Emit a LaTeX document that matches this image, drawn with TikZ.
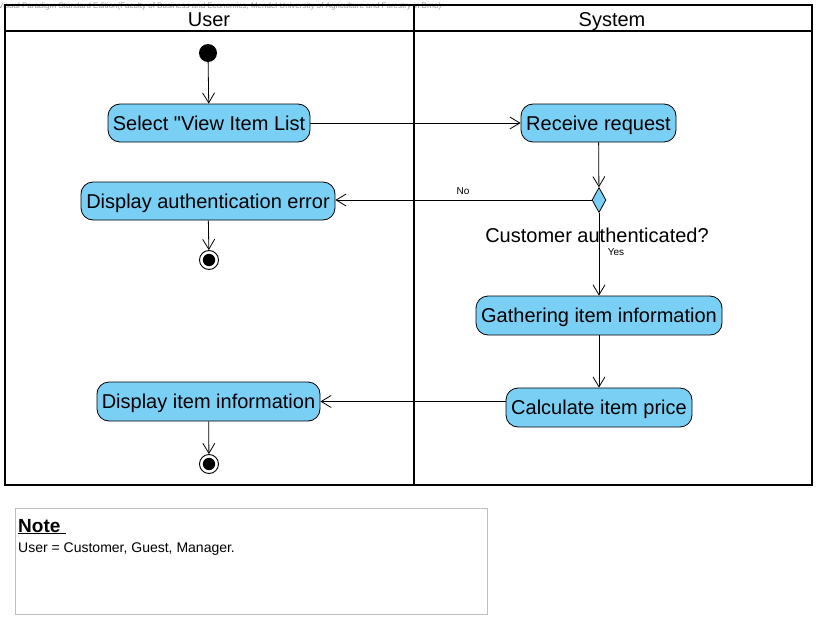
\documentclass[tikz,border=0pt]{standalone}
\usepackage{fontspec}
\setmainfont{Liberation Sans}
\usetikzlibrary{arrows.meta,shapes.geometric}
\definecolor{actc}{RGB}{122,207,245}
\definecolor{wm}{RGB}{150,150,150}
\definecolor{notec}{RGB}{190,190,190}
\begin{document}
\begin{tikzpicture}[x=1pt,y=-1pt,
  act/.style={draw, fill=actc, rounded corners=12pt, font=\fontsize{20}{24}\selectfont, inner sep=0pt, text height=18pt, text depth=4pt, line width=0.8pt},
  arr/.style={-{Straight Barb[length=10pt,width=12pt]}, line width=0.8pt},
  startn/.style={circle, fill=black, minimum size=18pt, inner sep=0pt},
  endn/.style={circle, draw, line width=0.9pt, fill=white, minimum size=19pt, inner sep=0pt},
  dec/.style={diamond, draw, fill=actc, inner sep=0pt, minimum width=14pt, minimum height=25pt, line width=0.8pt},
  lbl/.style={font=\fontsize{10}{12}\selectfont, inner sep=0pt},
  lane/.style={line width=2pt},
  head/.style={font=\fontsize{20}{24}\selectfont, inner sep=0pt, text height=18pt, text depth=4pt}
]
\useasboundingbox (0,0) rectangle (817,618);
\clip (0,0) rectangle (817,618);
% watermark
\node[anchor=west, text=wm, font=\fontsize{8}{10}\selectfont, inner sep=0pt] (wmark) at (-2,6.5)
  {Visual Paradigm Standard Edition(Faculty of Business and Economics, Mendel University of Agriculture and Forestry in Brno)};
% swimlanes
\draw[lane] (5,5) rectangle (812,485);
\draw[lane] (5,31.5) -- (812,31.5);
\draw[lane] (414,5) -- (414,485);
\node[head] (hUser) at (209,20) {User};
\node[head] (hSys) at (612,20) {System};
% nodes
\node[startn] (start) at (208,53) {};
\node[act, minimum width=202pt, minimum height=38pt] (sel) at (209,123) {Select \textquotedbl View Item List};
\node[act, minimum width=155pt, minimum height=38pt] (rec) at (598.5,123) {Receive request};
\node[dec] (dia) at (599,200) {};
\node[act, minimum width=254pt, minimum height=38pt] (dauth) at (208,201) {Display authentication error};
\node[endn] (end1) at (209,260) {};
\fill (end1.center) circle (6.2pt);
\node[head] (cond) at (597,235) {Customer authenticated?};
\node[lbl] (lNo) at (463,191) {No};
\node[lbl] (lYes) at (616,252) {Yes};
\node[act, minimum width=246pt, minimum height=39pt] (gath) at (599,315.5) {Gathering item information};
\node[act, minimum width=186pt, minimum height=39pt] (calc) at (599,407.5) {Calculate item price};
\node[act, minimum width=223pt, minimum height=39pt] (ditem) at (208.5,401.5) {Display item information};
\node[endn] (end2) at (209,464) {};
\fill (end2.center) circle (6.2pt);
% edges
\draw[arr] (start) -- (sel);
\draw[arr] (sel) -- (rec);
\draw[arr] (rec) -- (dia);
\draw[arr] (dia.west) -- (dia.west -| dauth.east);
\draw[arr] (dauth) -- (end1);
\draw[arr] (dia) -- (gath);
\draw[arr] (gath) -- (calc);
\draw[arr] (calc.west |- ditem) -- (ditem.east);
\draw[arr] (ditem) -- (end2);
% note
\draw[notec, line width=1pt] (15.5,508.5) rectangle (487,614);
\node[anchor=base west, inner sep=0pt, font=\fontsize{19}{22}\selectfont\bfseries] (nTitle) at (18,532) {\underline{Note\ }};
\node[anchor=base west, inner sep=0pt, font=\fontsize{14}{16}\selectfont] (nText) at (18,552) {User = Customer, Guest, Manager.};
\end{tikzpicture}
\end{document}
